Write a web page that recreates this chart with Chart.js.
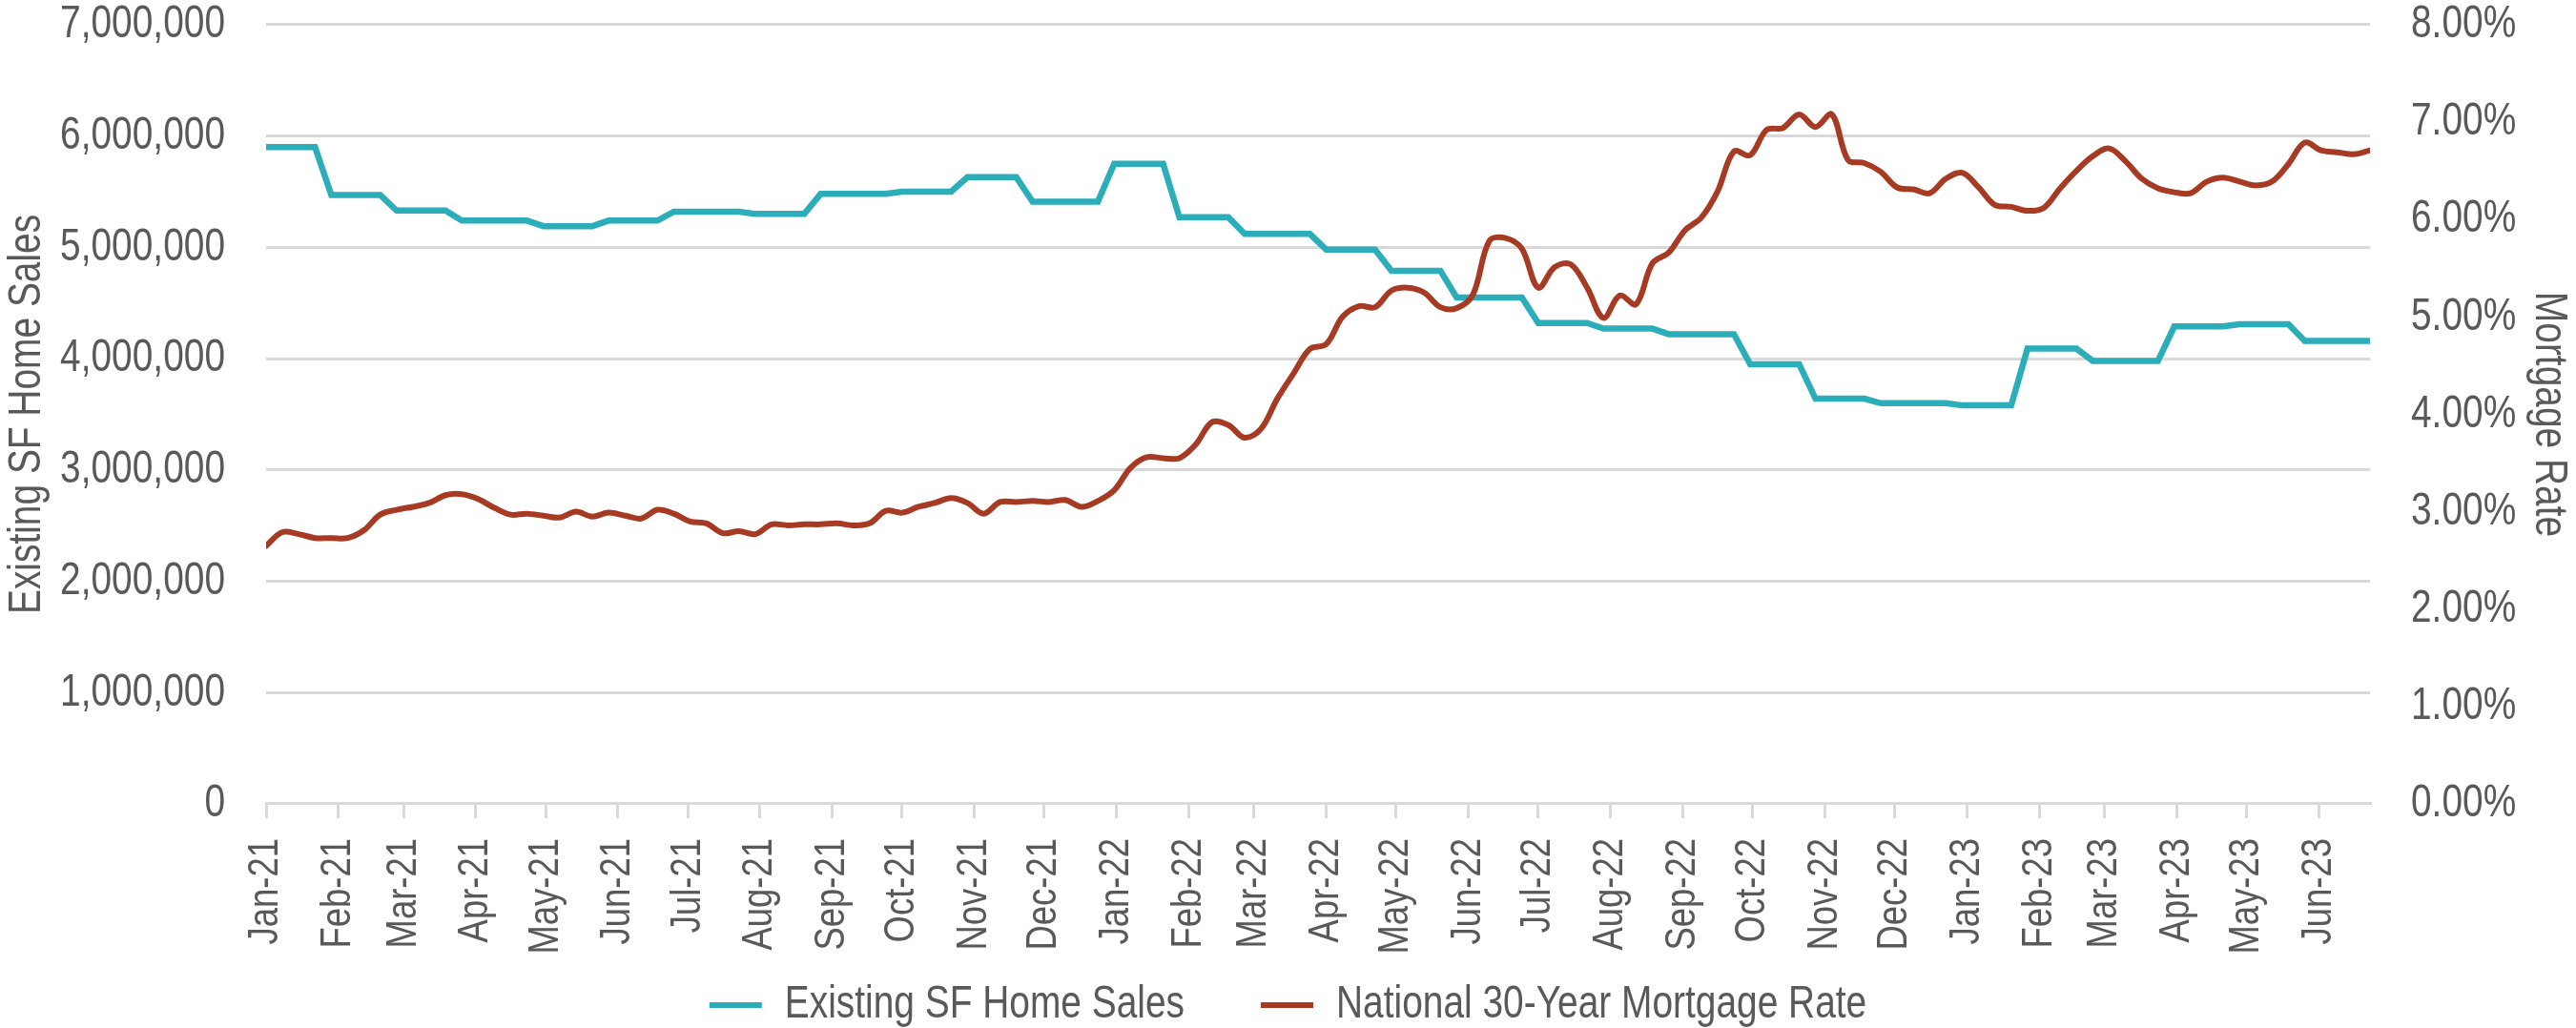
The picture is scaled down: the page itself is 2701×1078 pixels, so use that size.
<!DOCTYPE html>
<html>
<head>
<meta charset="utf-8">
<title>Existing SF Home Sales vs National 30-Year Mortgage Rate</title>
<script src="https://cdn.jsdelivr.net/npm/chart.js@4.4.1/dist/chart.umd.min.js"></script>
<style>
  html, body { margin: 0; padding: 0; background: #fff; }
  #wrap { width: 2701px; height: 1078px; position: relative; }
</style>
</head>
<body>
<div id="wrap"><canvas id="chart" width="2701" height="1078"></canvas></div>
<script>
// ---- data ----
// weekly series, first week is Thu 7 Jan 2021
const firstWeek = [2021, 0, 7];

const monthLabels = [
  "Jan-21", "Feb-21", "Mar-21", "Apr-21", "May-21", "Jun-21", "Jul-21", "Aug-21", "Sep-21", "Oct-21", "Nov-21", "Dec-21",
  "Jan-22", "Feb-22", "Mar-22", "Apr-22", "May-22", "Jun-22", "Jul-22", "Aug-22", "Sep-22", "Oct-22", "Nov-22", "Dec-22",
  "Jan-23", "Feb-23", "Mar-23", "Apr-23", "May-23", "Jun-23"
];

// existing single-family home sales, one value per month
const homeSales = [
  5900000, 5470000, 5330000, 5240000, 5190000, 5240000, 5320000, 5300000, 5480000, 5500000, 5630000, 5410000,
  5750000, 5270000, 5120000, 4980000, 4790000, 4550000, 4320000, 4270000, 4220000, 3950000, 3640000, 3600000,
  3580000, 4090000, 3980000, 4290000, 4310000, 4160000
];

// national 30-year mortgage rate, weekly (%)
const mortgageRate = [
  2.65, 2.79, 2.77, 2.73, 2.73, 2.73, 2.81, 2.97, 3.02, 3.05, 3.09, 3.17, 3.18, 3.13, 3.04, 2.97, 2.98,
  2.96, 2.94, 3.00, 2.95, 2.99, 2.96, 2.93, 3.02, 2.98, 2.90, 2.88, 2.78, 2.80, 2.77, 2.87, 2.86, 2.87,
  2.87, 2.88, 2.86, 2.88, 3.01, 2.99, 3.05, 3.09, 3.14, 3.09, 2.98, 3.10, 3.10, 3.11, 3.10, 3.12, 3.05, 3.11,
  3.22, 3.45, 3.56, 3.55, 3.55, 3.69, 3.92, 3.89, 3.76, 3.85, 4.16, 4.42, 4.67, 4.72, 5.00, 5.11, 5.10,
  5.27, 5.30, 5.25, 5.10, 5.09, 5.23, 5.78, 5.81, 5.70, 5.30, 5.51, 5.54, 5.30, 4.99, 5.22, 5.13, 5.55,
  5.66, 5.89, 6.02, 6.29, 6.70, 6.66, 6.92, 6.94, 7.08, 6.95, 7.08, 6.61, 6.58, 6.49, 6.33, 6.31, 6.27, 6.42,
  6.48, 6.33, 6.15, 6.13, 6.09, 6.12, 6.32, 6.50, 6.65, 6.73, 6.60, 6.42, 6.32, 6.28, 6.27, 6.39, 6.43,
  6.39, 6.35, 6.39, 6.57, 6.79, 6.71, 6.69, 6.67, 6.71
];

// ---- build points (x = days since first week) ----
const DAY = 86400000;
const t0 = Date.UTC(firstWeek[0], firstWeek[1], firstWeek[2]);
const weekDays = mortgageRate.map((_, i) => i * 7);
const monthTicks = monthLabels.map((_, m) => (Date.UTC(firstWeek[0], m, firstWeek[2]) - t0) / DAY);

const salesPoints = weekDays.map(d => {
  const dt = new Date(t0 + d * DAY);
  const m = (dt.getUTCFullYear() - firstWeek[0]) * 12 + dt.getUTCMonth();
  return { x: d, y: homeSales[m] };
});
const ratePoints = weekDays.map((d, i) => ({ x: d, y: mortgageRate[i] / 100 }));

// ---- style ----
const FONT = "'Liberation Sans', Arial, sans-serif";
const TEXT = "#595959";
const GRID = "#d9d9d9";
const TEAL = "#2badba";
const RUST = "#a63a22";
const CHART_BOTTOM = 843;
const LEGEND_FONT = 48;
const LEGEND_PAD = 80;
const BOTTOM_SHIFT = 10;   // legend sits a bit lower than the default

const ctx = document.getElementById("chart").getContext("2d");

// no narrow font installed: squeeze text horizontally (Arial Narrow look)
const SQUEEZE = 0.81;
const rawFill = CanvasRenderingContext2D.prototype.fillText;
const rawMeasure = CanvasRenderingContext2D.prototype.measureText;
ctx.fillText = function (text, x, y, maxWidth) {
  this.save();
  this.translate(x, y);
  this.scale(SQUEEZE, 1);
  if (maxWidth !== undefined) rawFill.call(this, text, 0, 0, maxWidth / SQUEEZE);
  else rawFill.call(this, text, 0, 0);
  this.restore();
};
ctx.measureText = function (text) {
  const m = rawMeasure.call(this, text);
  return {
    width: m.width * SQUEEZE,
    actualBoundingBoxAscent: m.actualBoundingBoxAscent,
    actualBoundingBoxDescent: m.actualBoundingBoxDescent,
    actualBoundingBoxLeft: m.actualBoundingBoxLeft * SQUEEZE,
    actualBoundingBoxRight: m.actualBoundingBoxRight * SQUEEZE
  };
};

new Chart(ctx, {
  type: "line",
  data: {
    datasets: [
      {
        label: "Existing SF Home Sales",
        data: salesPoints,
        yAxisID: "y",
        borderColor: TEAL,
        backgroundColor: TEAL,
        borderWidth: 6.5,
        pointRadius: 0,
        tension: 0,
        order: 2
      },
      {
        label: "National 30-Year Mortgage Rate",
        data: ratePoints,
        yAxisID: "y1",
        borderColor: RUST,
        backgroundColor: RUST,
        borderWidth: 6,
        borderCapStyle: "round",
        borderJoinStyle: "round",
        pointRadius: 0,
        tension: 0.35,
        order: 1
      }
    ]
  },
  options: {
    responsive: false,
    animation: false,
    layout: { padding: { top: 0, left: 0, right: 0, bottom: -BOTTOM_SHIFT } },
    plugins: {
      tooltip: { enabled: false },
      legend: {
        position: "bottom",
        labels: {
          color: TEXT,
          font: { family: FONT, size: LEGEND_FONT },
          boxWidth: 55,
          boxHeight: 6,
          padding: LEGEND_PAD,
          sort: (a, b) => a.datasetIndex - b.datasetIndex,
          generateLabels: chart => {
            const items = Chart.defaults.plugins.legend.labels.generateLabels(chart);
            items.forEach(it => { it.lineWidth = 0; it.fillStyle = it.strokeStyle; });
            return items;
          }
        }
      }
    },
    scales: {
      x: {
        type: "linear",
        min: 0,
        max: weekDays[weekDays.length - 1],
        afterBuildTicks: scale => { scale.ticks = monthTicks.map(v => ({ value: v })); },
        afterFit: scale => {
          scale.height = 1078 + BOTTOM_SHIFT - (LEGEND_FONT + LEGEND_PAD + 10) - CHART_BOTTOM;
          // month labels run down into the legend band, don't clip them
          scale._computeLabelArea = () => undefined;
        },
        ticks: {
          autoSkip: false,
          maxRotation: 90,
          minRotation: 90,
          padding: 21,
          color: TEXT,
          font: { family: FONT, size: 45 },
          callback: (v, i) => monthLabels[i]
        },
        grid: { drawOnChartArea: false, color: GRID, lineWidth: 3, tickLength: 15 },
        border: { color: GRID, width: 3 }
      },
      y: {
        position: "left",
        min: 0,
        max: 7000000,
        afterFit: scale => { scale.width = 279; },
        ticks: {
          stepSize: 1000000,
          padding: 0,
          color: TEXT,
          font: { family: FONT, size: 48, lineHeight: 1.08 },
          callback: v => v.toLocaleString("en-US")
        },
        grid: { color: GRID, lineWidth: 3, tickLength: 43, tickColor: "rgba(0,0,0,0)" },
        border: { display: false },
        title: {
          display: true,
          text: "Existing SF Home Sales",
          color: TEXT,
          font: { family: FONT, size: 48 },
          padding: 0
        }
      },
      y1: {
        position: "right",
        min: 0,
        max: 0.08,
        afterFit: scale => { scale.width = 216; },
        ticks: {
          stepSize: 0.01,
          padding: 0,
          color: TEXT,
          font: { family: FONT, size: 48, lineHeight: 1.08 },
          callback: v => (v * 100).toFixed(2) + "%"
        },
        grid: { drawOnChartArea: false, tickLength: 43, tickColor: "rgba(0,0,0,0)" },
        border: { display: false },
        title: {
          display: true,
          text: "Mortgage Rate",
          color: TEXT,
          font: { family: FONT, size: 48 },
          padding: 0
        }
      }
    }
  }
});
</script>
</body>
</html>
